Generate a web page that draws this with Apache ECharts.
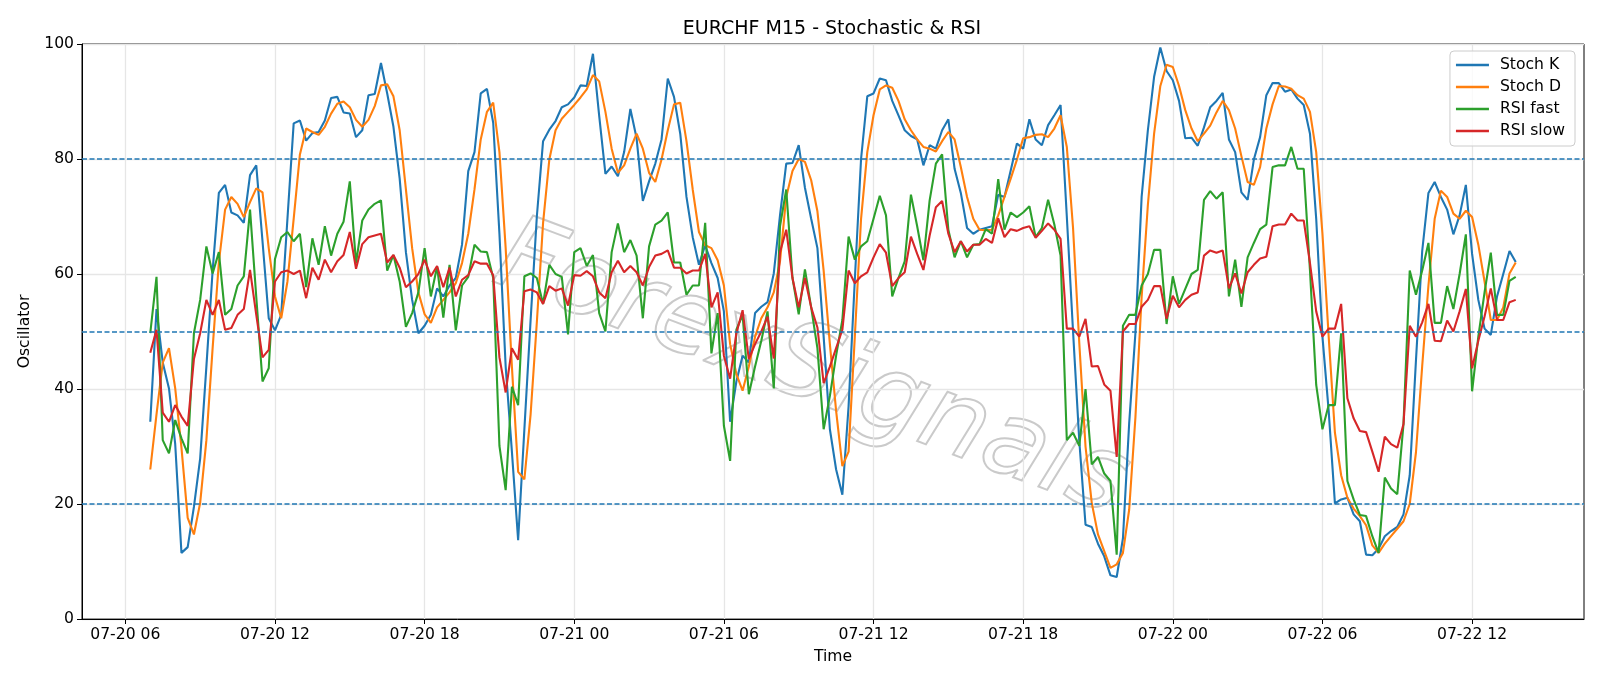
<!DOCTYPE html>
<html>
<head>
<meta charset="utf-8">
<title>EURCHF M15 - Stochastic & RSI</title>
<script src="https://cdn.jsdelivr.net/npm/echarts@6/dist/echarts.min.js"></script>
<style>
html, body { margin: 0; padding: 0; background: #fff; }
#chart { width: 1600px; height: 686px; }
</style>
</head>
<body>
<div id="chart"></div>
<script>
// 15 minute bars, first one 07-20 07:00 (x is hours counted from 07-20 00:00)
var startHour = 7;
var stepHour = 0.25;

var tickHours = [6, 12, 18, 24, 30, 36, 42, 48, 54, 60];
var tickLabels = ['07-20 06', '07-20 12', '07-20 18', '07-21 00', '07-21 06', '07-21 12', '07-21 18', '07-22 00', '07-22 06', '07-22 12'];
var levels = [20, 50, 80];

var stochK = [
  34.3, 53.9, 44.6, 40.1, 30.4, 11.5, 12.5, 19.5, 27.9, 43.9, 60.6, 74.1, 75.5, 70.7, 70.2, 68.9, 77.2, 78.9, 65.7, 52.3,
  50.2, 52.9, 69.6, 86.2, 86.7, 83.2, 84.5, 84.7, 86.7, 90.6, 90.8, 88.1, 87.9, 83.8, 85.0, 91.1, 91.3, 96.7, 91.4, 85.6,
  76.6, 63.8, 55.5, 49.7, 51.0, 52.9, 57.5, 56.1, 58.0, 59.3, 65.1, 77.9, 81.2, 91.4, 92.2, 86.3, 67.0, 43.9, 29.1, 13.7,
  33.0, 52.0, 70.0, 83.1, 85.1, 86.6, 89.0, 89.5, 90.7, 92.8, 92.7, 98.3, 87.5, 77.4, 78.7, 77.0, 81.2, 88.7, 83.6, 72.7,
  76.1, 79.2, 83.4, 94.0, 90.8, 84.4, 73.4, 66.4, 61.6, 65.0, 61.9, 59.3, 53.5, 34.3, 41.3, 45.8, 44.6, 53.2, 54.3, 55.1,
  60.1, 70.2, 79.2, 79.3, 82.4, 75.0, 69.6, 64.5, 49.1, 33.0, 26.0, 21.6, 37.0, 59.0, 80.0, 90.9, 91.4, 94.0, 93.7, 90.1,
  87.6, 85.0, 84.0, 83.4, 78.9, 82.4, 81.8, 85.0, 86.9, 78.3, 74.1, 68.0, 67.0, 67.7, 68.0, 68.3, 73.8, 73.4, 78.0, 82.7,
  81.8, 86.9, 83.4, 82.4, 85.9, 87.6, 89.4, 70.0, 50.0, 31.0, 16.4, 16.0, 13.1, 10.9, 7.6, 7.3, 14.0, 34.0, 49.7, 73.4,
  85.0, 94.3, 99.4, 95.3, 93.7, 90.1, 83.6, 83.7, 82.3, 85.5, 89.0, 90.1, 91.5, 83.4, 81.2, 74.2, 72.9, 79.9, 83.8, 91.1,
  93.2, 93.2, 91.7, 92.1, 90.5, 89.4, 84.4, 69.6, 49.1, 36.2, 20.1, 20.8, 21.1, 18.2, 17.0, 11.2, 11.1, 12.2, 14.4, 15.3,
  16.0, 18.2, 25.0, 45.0, 64.0, 74.1, 76.0, 73.4, 71.2, 66.9, 70.2, 75.5, 63.5, 55.5, 50.5, 49.4, 56.1, 60.0, 64.0, 62.1
];

var stochD = [
  26.0, 35.6, 44.6, 47.1, 40.1, 29.8, 17.6, 14.7, 20.2, 31.1, 47.1, 62.0, 71.2, 73.4, 72.2, 69.9, 72.5, 74.9, 74.2, 64.5,
  56.1, 52.3, 58.7, 69.6, 80.8, 85.3, 84.7, 84.2, 85.6, 87.9, 89.6, 90.0, 89.0, 86.8, 85.6, 86.8, 89.2, 92.8, 93.0, 90.9,
  85.0, 74.7, 64.5, 56.8, 53.0, 51.5, 54.2, 55.5, 56.8, 58.4, 61.9, 67.0, 74.7, 83.4, 88.2, 89.8, 81.2, 64.5, 43.9, 25.6,
  24.3, 35.6, 51.6, 68.9, 79.9, 85.0, 87.0, 88.2, 89.4, 90.7, 92.1, 94.6, 93.5, 88.2, 81.8, 77.6, 78.9, 81.8, 84.4, 81.8,
  77.6, 76.0, 79.9, 85.0, 89.5, 89.8, 83.1, 74.7, 67.3, 65.0, 64.5, 62.4, 58.0, 47.8, 42.6, 39.7, 43.9, 49.1, 52.3, 54.2,
  56.8, 62.2, 73.4, 77.9, 80.0, 79.5, 76.3, 70.9, 60.6, 47.8, 36.2, 26.6, 29.1, 49.1, 69.6, 81.2, 87.6, 92.1, 92.8, 92.4,
  90.1, 86.9, 85.0, 83.4, 82.1, 81.8, 81.3, 83.1, 84.7, 83.4, 78.6, 73.4, 69.6, 67.7, 67.6, 67.7, 70.2, 73.4, 76.6, 79.9,
  83.6, 83.8, 84.2, 84.3, 83.8, 85.3, 87.6, 82.1, 68.0, 48.0, 30.0, 20.2, 14.7, 11.8, 8.9, 9.5, 11.5, 19.0, 35.0, 56.0,
  72.0, 84.4, 92.7, 96.4, 96.0, 92.7, 88.5, 85.3, 83.1, 84.4, 85.8, 88.1, 90.1, 88.5, 85.3, 80.5, 76.0, 75.5, 78.6, 85.3,
  89.5, 92.7, 92.6, 92.2, 91.1, 90.5, 88.2, 81.2, 67.0, 49.1, 32.4, 25.0, 21.1, 19.2, 17.9, 16.3, 12.8, 11.5, 13.1, 14.4,
  15.7, 17.0, 20.0, 29.0, 44.0, 58.0, 69.6, 74.5, 73.4, 70.5, 69.6, 71.0, 69.9, 65.1, 58.7, 52.0, 52.0, 54.2, 60.1, 62.0
];

var rsiFast = [
  49.7, 59.5, 31.1, 28.8, 34.6, 31.4, 28.8, 49.7, 55.5, 64.8, 60.1, 63.8, 52.9, 53.9, 58.0, 59.6, 71.2, 56.0, 41.3, 43.6,
  62.6, 66.4, 67.3, 65.7, 67.0, 57.7, 66.2, 61.6, 68.3, 63.2, 67.0, 69.1, 76.1, 61.9, 69.3, 71.2, 72.2, 72.8, 60.6, 63.3,
  58.7, 50.8, 53.2, 56.8, 64.5, 56.1, 61.3, 52.4, 61.6, 50.2, 58.0, 59.5, 65.1, 63.9, 63.8, 59.3, 30.1, 22.4, 40.4, 37.2,
  59.6, 60.1, 59.3, 54.8, 61.6, 60.0, 59.5, 49.5, 63.8, 64.5, 61.4, 63.3, 53.2, 50.0, 63.8, 68.8, 63.8, 65.9, 63.2, 52.3,
  64.8, 68.6, 69.3, 70.7, 62.0, 62.0, 56.4, 58.0, 58.0, 68.9, 46.2, 53.2, 33.6, 27.5, 50.3, 52.9, 39.1, 43.9, 48.4, 53.5,
  40.1, 68.3, 74.7, 59.3, 53.0, 60.8, 54.2, 47.1, 33.0, 38.8, 45.8, 52.0, 66.5, 62.5, 64.8, 65.7, 69.6, 73.6, 70.2, 56.1,
  59.3, 62.2, 73.8, 68.3, 62.4, 72.8, 79.2, 80.8, 67.7, 62.9, 65.7, 62.9, 65.1, 65.2, 67.8, 67.0, 76.5, 67.7, 70.7, 69.9,
  70.7, 71.8, 66.4, 68.0, 72.9, 68.6, 63.2, 31.1, 32.4, 30.1, 40.0, 26.9, 28.2, 25.3, 24.0, 11.2, 51.0, 52.9, 52.9, 58.0,
  60.0, 64.2, 64.2, 51.3, 59.6, 54.8, 57.4, 60.0, 60.7, 72.9, 74.4, 73.1, 74.2, 56.1, 62.5, 54.3, 62.9, 65.4, 67.8, 68.6,
  78.6, 78.9, 78.9, 82.1, 78.3, 78.3, 60.6, 40.7, 33.0, 37.2, 37.2, 49.7, 24.0, 20.8, 18.1, 17.9, 14.4, 11.5, 24.6, 22.7,
  21.7, 33.9, 60.6, 56.4, 60.6, 65.4, 51.5, 51.5, 57.9, 53.9, 60.0, 66.9, 39.6, 49.1, 56.8, 63.7, 52.9, 52.9, 58.8, 59.5
];

var rsiSlow = [
  46.3, 50.3, 35.9, 34.3, 37.2, 35.2, 33.6, 45.2, 49.7, 55.5, 52.9, 55.5, 50.3, 50.6, 52.9, 53.9, 60.7, 52.9, 45.5, 46.8,
  58.7, 60.3, 60.6, 60.0, 60.6, 55.8, 61.1, 59.0, 62.5, 60.3, 62.2, 63.3, 67.3, 60.9, 65.2, 66.4, 66.7, 67.0, 62.0, 63.3,
  61.1, 57.7, 58.7, 60.0, 62.5, 59.6, 61.4, 57.7, 61.1, 56.1, 59.0, 59.8, 62.2, 61.8, 61.8, 59.8, 45.5, 39.4, 47.1, 45.1,
  57.0, 57.3, 56.8, 54.8, 57.9, 57.1, 57.5, 54.5, 59.8, 59.7, 60.5, 59.6, 56.8, 55.8, 60.3, 62.3, 60.3, 61.4, 60.3, 58.0,
  61.2, 63.2, 63.5, 64.1, 61.1, 61.1, 60.1, 60.6, 60.6, 63.5, 54.2, 56.8, 45.8, 41.8, 49.7, 53.7, 45.2, 47.8, 50.0, 52.6,
  45.3, 63.8, 67.7, 59.3, 54.2, 59.3, 54.2, 50.7, 41.0, 43.9, 47.1, 50.3, 60.6, 58.4, 59.6, 60.3, 62.9, 65.2, 63.7, 57.9,
  59.3, 60.3, 66.5, 63.5, 60.7, 66.7, 71.6, 72.7, 67.0, 63.8, 65.7, 63.9, 65.1, 65.1, 66.1, 65.4, 69.7, 66.4, 67.8, 67.5,
  68.0, 68.3, 66.3, 67.5, 68.8, 67.7, 66.1, 50.5, 50.5, 49.1, 52.2, 43.9, 44.0, 40.8, 39.7, 28.2, 50.0, 51.3, 51.3, 54.3,
  55.5, 57.9, 57.9, 52.2, 56.2, 54.2, 55.5, 56.4, 56.8, 63.2, 64.1, 63.7, 64.1, 57.5, 60.1, 56.6, 60.3, 61.6, 62.7, 63.0,
  68.3, 68.6, 68.6, 70.5, 69.3, 69.3, 61.9, 53.5, 49.1, 50.5, 50.5, 54.8, 38.4, 34.9, 32.7, 32.5, 29.1, 25.6, 31.7, 30.4,
  29.8, 33.9, 51.0, 49.1, 51.6, 54.8, 48.4, 48.3, 51.9, 50.0, 53.5, 57.4, 43.6, 48.4, 52.6, 57.5, 52.0, 52.0, 55.1, 55.5
];

var font = 'DejaVu Sans';
var fs = 15.6;

function toPoints(arr) {
  return arr.map(function (v, i) { return [startHour + i * stepHour, v]; });
}

// matplotlib style 5% margins on x
var lastHour = startHour + (stochK.length - 1) * stepHour;
var pad = (lastHour - startHour) * 0.05;

var chart = echarts.init(document.getElementById('chart'));

function lineSeries(name, color, arr) {
  return {
    name: name,
    type: 'line',
    data: toPoints(arr),
    showSymbol: false,
    symbol: 'none',
    lineStyle: { color: color, width: 2.1 },
    itemStyle: { color: color },
    animation: false,
    z: 3
  };
}

var option = {
  animation: false,
  backgroundColor: '#ffffff',
  textStyle: { fontFamily: font },
  title: {
    text: 'EURCHF M15 - Stochastic & RSI',
    left: 827,
    top: 15,
    textAlign: 'center',
    textStyle: { fontFamily: font, fontSize: 19, fontWeight: 'normal', color: '#000' }
  },
  legend: {
    right: 25,
    top: 51,
    orient: 'vertical',
    icon: 'rect',
    itemWidth: 33,
    itemHeight: 2.4,
    itemGap: 6,
    padding: [6, 10, 7, 6],
    backgroundColor: 'rgba(255,255,255,0.8)',
    borderColor: '#cccccc',
    borderWidth: 1,
    borderRadius: 4,
    textStyle: { fontFamily: font, fontSize: fs, color: '#000', padding: [0, 0, 0, 6] },
    data: ['Stoch K', 'Stoch D', 'RSI fast', 'RSI slow']
  },
  grid: {
    left: 82, right: 16, top: 44, bottom: 67,
    show: true, borderColor: '#000', borderWidth: 1, backgroundColor: 'transparent'
  },
  xAxis: {
    type: 'value',
    min: startHour - pad,
    max: lastHour + pad,
    name: 'Time',
    nameLocation: 'middle',
    nameGap: 30,
    nameTextStyle: { fontFamily: font, fontSize: fs, color: '#000' },
    axisLine: { onZero: false, lineStyle: { color: '#000', width: 1 } },
    axisTick: { customValues: tickHours, length: 5, lineStyle: { color: '#000', width: 1 } },
    axisLabel: {
      customValues: tickHours,
      margin: 8,
      fontFamily: font, fontSize: fs, color: '#000',
      formatter: function (v) { return tickLabels[tickHours.indexOf(v)]; }
    },
    splitLine: { show: false }
  },
  yAxis: {
    type: 'value',
    min: 0, max: 100, interval: 20,
    name: 'Oscillator',
    nameLocation: 'middle',
    nameGap: 46,
    nameRotate: 90,
    nameTextStyle: { fontFamily: font, fontSize: fs, color: '#000' },
    axisLine: { show: true, lineStyle: { color: '#000', width: 1 } },
    axisTick: { show: true, length: 5, lineStyle: { color: '#000', width: 1 } },
    axisLabel: { margin: 8, fontFamily: font, fontSize: fs, color: '#000' },
    splitLine: { show: true, lineStyle: { color: '#e6e6e6', width: 1.3 } }
  },
  graphic: [{
    type: 'text',
    left: 480,
    top: 205,
    rotation: -0.36,
    z: 0,
    silent: true,
    style: {
      text: 'ForexSignals',
      font: 'italic 104px "DejaVu Sans"',
      fill: 'rgba(255,255,255,0)',
      stroke: 'rgba(150,150,150,0.5)',
      lineWidth: 2
    }
  }],
  series: [
    {
      // vertical grid lines at the time ticks
      type: 'line',
      data: [],
      silent: true,
      z: 1,
      markLine: {
        silent: true,
        symbol: 'none',
        z: 1,
        label: { show: false },
        lineStyle: { color: '#e6e6e6', width: 1.3, type: 'solid' },
        data: tickHours.map(function (h) { return { xAxis: h }; })
      }
    },
    lineSeries('Stoch K', '#1f77b4', stochK),
    lineSeries('Stoch D', '#ff7f0e', stochD),
    lineSeries('RSI fast', '#2ca02c', rsiFast),
    lineSeries('RSI slow', '#d62728', rsiSlow),
    {
      // overbought / middle / oversold levels
      type: 'line',
      data: [],
      silent: true,
      markLine: {
        silent: true,
        symbol: 'none',
        label: { show: false },
        lineStyle: { color: '#1f77b4', width: 1.5, type: [5, 2.5] },
        data: levels.map(function (l) { return { yAxis: l }; })
      }
    }
  ]
};

chart.setOption(option);
</script>
</body>
</html>
